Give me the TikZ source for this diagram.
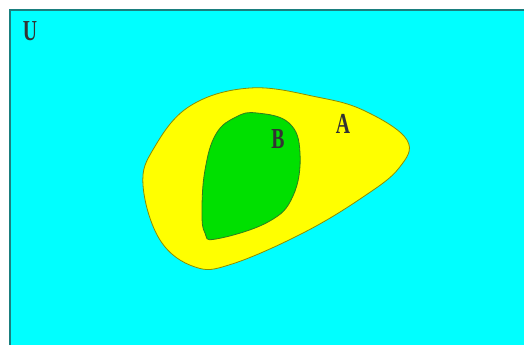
\documentclass[tikz,border=0pt]{standalone}
\usepackage{fontspec}
\setmainfont{Liberation Serif}
\definecolor{bgcyan}{HTML}{00FFFF}
\definecolor{edgeteal}{HTML}{1A7F7F}
\definecolor{setyellow}{HTML}{FFFF00}
\definecolor{setgreen}{HTML}{00E000}
\definecolor{outlineA}{HTML}{8C8C00}
\definecolor{outlineB}{HTML}{2E7D1E}
\tikzset{
  setlabel/.style={font=\fontsize{29}{29}\selectfont\bfseries, text=black!80, inner sep=0pt, xscale=0.68}
}
\begin{document}
\begin{tikzpicture}[x=1pt,y=-1pt]
\useasboundingbox (0,0) rectangle (524,345);
\fill[white] (0,0) rectangle (524,345);
\fill[bgcyan] (10,10) rectangle (524,345);
\draw[edgeteal, line width=2pt] (10,345) -- (10,10) -- (524,10);
% set A
\filldraw[fill=setyellow, draw=outlineA, line width=0.8pt]
  plot[smooth cycle, tension=0.65] coordinates {
    (190,106) (250,88) (317,97) (365,111) (407,140) (399,168)
    (363,197) (303,233) (232,264) (195,267) (160,240) (143,185) (154,148)};
% set B
\filldraw[fill=setgreen, draw=outlineB, line width=0.8pt]
  plot[smooth cycle, tension=0.7] coordinates {
    (257,113) (289,123) (300,153) (293,196) (268,222) (216,239)
    (205,233) (202,212) (205,170) (216,134) (236,117)};
\node[setlabel] (U) at (30,31) {U};
\node[setlabel] (A) at (343,124) {A};
\node[setlabel] (B) at (278,139) {B};
\end{tikzpicture}
\end{document}
